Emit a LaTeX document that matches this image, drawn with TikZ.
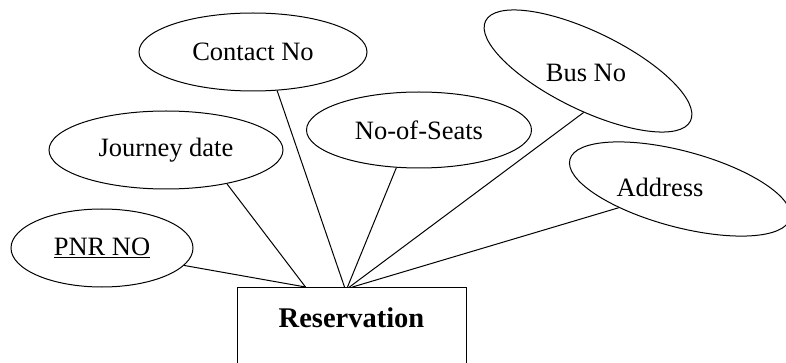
\documentclass[tikz,border=0pt]{standalone}
\usepackage{fontspec}
\setmainfont{Liberation Serif}
\usetikzlibrary{shapes.geometric}

\begin{document}
\begin{tikzpicture}[x=1pt,y=-1pt,
    attr/.style={draw, ellipse, line width=1pt, inner sep=0pt, minimum height=78pt},
    txt/.style={font=\fontsize{26.5}{30}\selectfont},
    link/.style={line width=1pt}]

    \useasboundingbox (0,0) rectangle (786,363); % 画布范围

    % 实体
    \node[draw, line width=1pt, anchor=north, inner sep=0pt, minimum width=229pt,
          text height=40pt, text depth=70pt, font=\bfseries\fontsize{28.5}{32}\selectfont]
          (resv) at (351.5,287) {Reservation};

    % 属性(椭圆)
    \node[attr, txt, minimum width=182pt] (pnr) at (102,248) {\underline{PNR NO}};
    \node[attr, txt, minimum width=234pt] (journey) at (166,150) {Journey date};
    \node[attr, txt, minimum width=228pt] (contact) at (253,52) {Contact No};
    \node[attr, txt, minimum width=225pt, minimum height=76pt] (seats) at (419,130) {No-of-Seats};
    \node[attr, minimum width=228pt, rotate=-26] (bus) at (588,71) {}; % 斜椭圆
    \node[txt] (busname) at (586,73) {Bus No};
    \node[attr, minimum width=228pt, minimum height=76pt, rotate=-15] (address) at (680,189) {}; % 斜椭圆
    \node[txt] (addrname) at (660,187) {Address};

    % 连线落点
    \coordinate (hubL) at ([xshift=-46pt]resv.north);
    \coordinate (hubC) at ([xshift=-7pt]resv.north);
    \coordinate (hubS) at ([xshift=-4pt]resv.north);
    \coordinate (hubB) at ([xshift=-2pt]resv.north);
    \coordinate (hubA) at ([xshift=1pt]resv.north);

    % 连线
    \draw[link] (pnr.-12) -- (hubL);
    \draw[link] (journey.-29) -- (hubL);
    \draw[link] (contact.-58) -- (hubC);
    \draw[link] (seats.-121) -- (hubS);
    \draw[link] (bus.-70) -- (hubB);
    \draw[link] (address.-148) -- (hubA);

\end{tikzpicture}
\end{document}
